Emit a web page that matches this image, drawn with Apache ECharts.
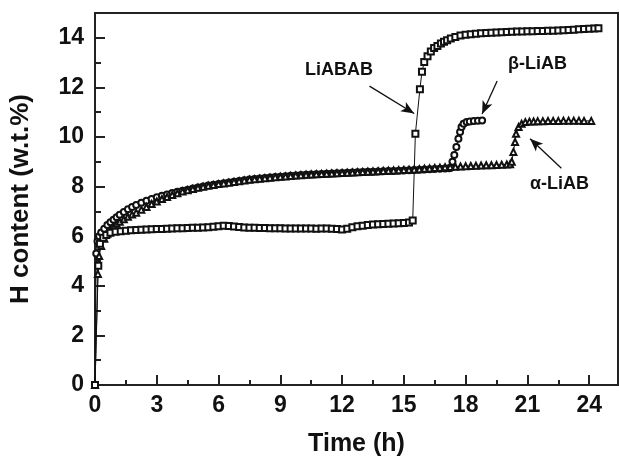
<!DOCTYPE html>
<html>
<head>
<meta charset="utf-8">
<script src="https://cdn.jsdelivr.net/npm/echarts@6/dist/echarts.min.js"></script>
<style>
html,body{margin:0;padding:0;background:#fff;}
#chart{width:619px;height:462px;}
</style>
</head>
<body>
<div id="chart"></div>
<script>
// Time (h) / H content (w.t.%) readings
const liABAB = [
[0,0],[0.16,4.81],[0.24,5.7],[0.4,5.94],[0.55,6.05],[0.75,6.14],[1.0,6.18],[1.25,6.2],[1.5,6.22],[1.75,6.24],[2.0,6.25],[2.25,6.26],[2.5,6.27],[2.75,6.28],[3.0,6.29],[3.25,6.29],[3.5,6.3],[3.75,6.31],[4.0,6.32],[4.25,6.32],[4.5,6.33],[4.75,6.34],[5.0,6.34],[5.25,6.35],[5.5,6.36],[5.75,6.38],[6.0,6.4],[6.25,6.42],[6.5,6.41],[6.75,6.39],[7.0,6.37],[7.25,6.35],[7.5,6.34],[7.75,6.34],[8.0,6.33],[8.25,6.33],[8.5,6.32],[8.75,6.32],[9.0,6.32],[9.25,6.31],[9.5,6.31],[9.75,6.31],[10.0,6.31],[10.25,6.31],[10.5,6.31],[10.75,6.3],[11.0,6.31],[11.25,6.31],[11.5,6.3],[11.75,6.29],[12.0,6.27],[12.25,6.3],[12.5,6.36],[12.75,6.4],[13.0,6.42],[13.25,6.45],[13.5,6.47],[13.75,6.48],[14.0,6.49],[14.25,6.5],[14.5,6.51],[14.75,6.52],[15.0,6.53],[15.25,6.55],[15.43,6.63],[15.56,10.13],[15.78,11.93],[15.88,12.63],[15.99,13.02],[16.15,13.26],[16.31,13.45],[16.47,13.59],[16.63,13.67],[16.8,13.77],[16.95,13.84],[17.1,13.9],[17.28,13.97],[17.5,14.03],[17.75,14.09],[18.0,14.12],[18.25,14.14],[18.5,14.16],[18.75,14.18],[19.0,14.19],[19.25,14.2],[19.5,14.21],[19.75,14.22],[20.0,14.23],[20.25,14.24],[20.5,14.25],[20.75,14.25],[21.0,14.26],[21.25,14.26],[21.5,14.27],[21.75,14.27],[22.0,14.28],[22.25,14.28],[22.5,14.29],[22.75,14.3],[23.0,14.31],[23.25,14.32],[23.5,14.34],[23.75,14.35],[24.0,14.36],[24.25,14.38],[24.45,14.39]
];
const betaLiAB = [
[0,0],[0.06,5.3],[0.12,5.8],[0.2,6.0],[0.3,6.15],[0.45,6.3],[0.6,6.45],[0.75,6.56],[0.9,6.66],[1.05,6.76],[1.2,6.86],[1.4,6.98],[1.6,7.09],[1.8,7.18],[2.0,7.26],[2.25,7.35],[2.5,7.43],[2.75,7.5],[3.0,7.57],[3.25,7.63],[3.5,7.68],[3.75,7.74],[4.0,7.79],[4.25,7.83],[4.5,7.87],[4.75,7.92],[5.0,7.96],[5.25,8.0],[5.5,8.04],[5.75,8.07],[6.0,8.1],[6.25,8.14],[6.5,8.17],[6.75,8.2],[7.0,8.23],[7.25,8.26],[7.5,8.29],[7.75,8.31],[8.0,8.33],[8.25,8.35],[8.5,8.37],[8.75,8.39],[9.0,8.4],[9.25,8.42],[9.5,8.44],[9.75,8.45],[10.0,8.47],[10.25,8.48],[10.5,8.49],[10.75,8.5],[11.0,8.51],[11.25,8.52],[11.5,8.53],[11.75,8.54],[12.0,8.55],[12.25,8.56],[12.5,8.57],[12.75,8.58],[13.0,8.59],[13.25,8.6],[13.5,8.6],[13.75,8.61],[14.0,8.62],[14.25,8.63],[14.5,8.63],[14.75,8.64],[15.0,8.65],[15.25,8.66],[15.5,8.67],[15.75,8.68],[16.0,8.69],[16.25,8.7],[16.5,8.71],[16.75,8.72],[17.0,8.73],[17.2,8.74],[17.28,8.76],[17.36,9.0],[17.45,9.27],[17.55,9.6],[17.65,9.93],[17.73,10.2],[17.8,10.4],[17.9,10.53],[18.05,10.6],[18.2,10.63],[18.4,10.65],[18.6,10.66],[18.8,10.67]
];
const alphaLiAB = [
[0,0],[0.14,4.48],[0.2,5.2],[0.3,5.6],[0.45,5.9],[0.6,6.1],[0.75,6.25],[0.9,6.38],[1.05,6.5],[1.2,6.58],[1.4,6.68],[1.6,6.78],[1.8,6.87],[2.0,6.95],[2.25,7.07],[2.5,7.18],[2.75,7.3],[3.0,7.4],[3.25,7.5],[3.5,7.58],[3.75,7.66],[4.0,7.73],[4.25,7.8],[4.5,7.85],[4.75,7.9],[5.0,7.95],[5.25,7.99],[5.5,8.03],[5.75,8.06],[6.0,8.1],[6.25,8.13],[6.5,8.16],[6.75,8.19],[7.0,8.22],[7.25,8.25],[7.5,8.28],[7.75,8.3],[8.0,8.32],[8.25,8.34],[8.5,8.36],[8.75,8.38],[9.0,8.4],[9.25,8.41],[9.5,8.43],[9.75,8.45],[10.0,8.46],[10.25,8.48],[10.5,8.49],[10.75,8.5],[11.0,8.51],[11.25,8.52],[11.5,8.53],[11.75,8.54],[12.0,8.55],[12.25,8.56],[12.5,8.57],[12.75,8.58],[13.0,8.59],[13.25,8.6],[13.5,8.61],[13.75,8.62],[14.0,8.63],[14.25,8.64],[14.5,8.65],[14.75,8.66],[15.0,8.67],[15.25,8.68],[15.5,8.69],[15.75,8.7],[16.0,8.72],[16.25,8.73],[16.5,8.75],[16.75,8.76],[17.0,8.78],[17.25,8.79],[17.5,8.8],[17.75,8.81],[18.0,8.82],[18.25,8.83],[18.5,8.84],[18.75,8.85],[19.0,8.86],[19.25,8.86],[19.5,8.87],[19.75,8.88],[20.0,8.89],[20.16,8.9],[20.24,9.0],[20.32,9.4],[20.4,9.8],[20.45,10.13],[20.57,10.4],[20.72,10.53],[20.9,10.6],[21.1,10.62],[21.3,10.63],[21.5,10.64],[21.75,10.64],[22.0,10.65],[22.25,10.65],[22.5,10.65],[22.75,10.66],[23.0,10.66],[23.25,10.66],[23.5,10.66],[23.75,10.65],[24.1,10.65]
];
const xTicks = {min: 0, max: 25.4, interval: 3};
const yTicks = {min: 0, max: 15, interval: 2};
const labels = ['LiABAB', 'β-LiAB', 'α-LiAB'];
// arrow annotations: [from, to] in data units
const arrows = [
  [[13.33, 12.05], [15.5, 10.95]],
  [[19.53, 12.26], [18.8, 10.93]],
  [[22.65, 8.74], [21.13, 9.93]]
];

const FONT = '"Liberation Sans", Arial, Helvetica, sans-serif';
const chart = echarts.init(document.getElementById('chart'), null, {renderer: 'canvas'});

function mkSeries(name, data, symbol, extra) {
  return Object.assign({
    name: name,
    type: 'line',
    data: data,
    symbol: symbol,
    symbolSize: 6,
    showAllSymbol: true,
    showSymbol: true,
    lineStyle: {color: '#111', width: 1},
    itemStyle: {color: '#111', borderColor: '#111', borderWidth: 1},
    emphasis: {disabled: true},
    animation: false,
    z: 3
  }, extra || {});
}

function arrowLine(a) {
  return [
    {coord: a[0], symbol: 'none'},
    {coord: a[1], symbol: 'arrow', symbolSize: [8, 13]}
  ];
}

const option = {
  backgroundColor: '#fff',
  animation: false,
  grid: {left: 91, right: 1, top: 13, bottom: 73, show: true, borderColor: '#222', borderWidth: 2, backgroundColor: 'transparent'},
  xAxis: {
    type: 'value', min: xTicks.min, max: xTicks.max, interval: xTicks.interval,
    name: 'Time (h)', nameLocation: 'middle', nameGap: 47,
    nameTextStyle: {fontFamily: FONT, fontWeight: 'bold', fontSize: 25, color: '#111'},
    axisLine: {show: true, onZero: false, lineStyle: {color: '#222', width: 2}},
    axisTick: {show: true, inside: true, length: 10, lineStyle: {color: '#222', width: 2}},
    minorTick: {show: true, splitNumber: 2, length: 5, lineStyle: {color: '#222', width: 2}},
    splitLine: {show: false},
    axisLabel: {fontFamily: FONT, fontWeight: 'bold', fontSize: 23, color: '#111', margin: 9, showMaxLabel: false}
  },
  yAxis: {
    type: 'value', min: yTicks.min, max: yTicks.max, interval: yTicks.interval,
    name: 'H content (w.t.%)', nameLocation: 'middle', nameGap: 61,
    nameTextStyle: {fontFamily: FONT, fontWeight: 'bold', fontSize: 26, color: '#111'},
    axisLine: {show: true, onZero: false, lineStyle: {color: '#222', width: 2}},
    axisTick: {show: true, inside: true, length: 10, lineStyle: {color: '#222', width: 2}},
    minorTick: {show: true, splitNumber: 2, length: 6, lineStyle: {color: '#222', width: 2}},
    splitLine: {show: false},
    axisLabel: {fontFamily: FONT, fontWeight: 'bold', fontSize: 23, color: '#111', margin: 11, showMaxLabel: false}
  },
  series: [
    mkSeries(labels[1], betaLiAB, 'emptyCircle'),
    mkSeries(labels[2], alphaLiAB, 'emptyTriangle'),
    mkSeries(labels[0], liABAB, 'emptyRect', {
      markLine: {
        silent: true, animation: false,
        lineStyle: {color: '#111', width: 1.3, type: 'solid'},
        label: {show: false},
        symbol: ['none', 'arrow'],
        data: arrows.map(arrowLine)
      }
    })
  ],
  graphic: [
    {type: 'text', left: 305, top: 61, style: {text: labels[0], font: 'bold 18px ' + FONT, fill: '#111'}, z: 10},
    {type: 'text', left: 508, top: 55, style: {text: labels[1], font: 'bold 18px ' + FONT, fill: '#111'}, z: 10},
    {type: 'text', left: 530, top: 175, style: {text: labels[2], font: 'bold 18px ' + FONT, fill: '#111'}, z: 10}
  ]
};
chart.setOption(option);
</script>
</body>
</html>
